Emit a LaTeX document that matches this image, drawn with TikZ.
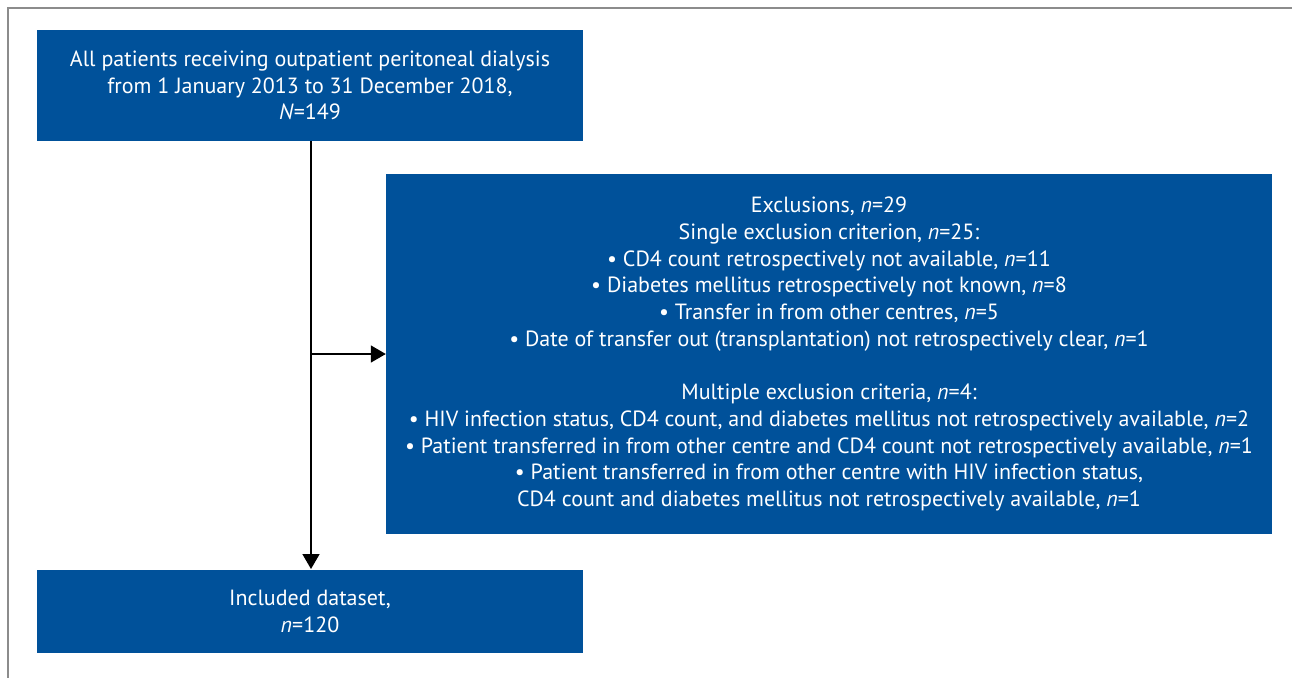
\documentclass[tikz,border=0pt]{standalone}
\usepackage{fontspec}
\setmainfont{PT Sans}
\usetikzlibrary{arrows.meta}
\definecolor{boxblue}{RGB}{0,81,154}
\definecolor{framegray}{RGB}{140,140,140}
\begin{document}
\begin{tikzpicture}[x=1pt,y=-1pt,
  bluebox/.style={fill=boxblue,draw=none,text=white,align=center,inner sep=0pt,
    font=\fontsize{22}{26.7}\selectfont},
  conn/.style={line width=1.5pt,-{Triangle[length=15pt,width=17pt]}}]
\useasboundingbox (0,0) rectangle (1292,678);
\draw[framegray,line width=1.5pt] (1292,8) -- (8,8) -- (8,678);
\node[bluebox,minimum width=546pt,minimum height=111pt] (top) at (310,85.5)
  {All patients receiving outpatient peritoneal dialysis\\
   from 1 January 2013 to 31 December 2018,\\
   \textit{N}=149};
\node[bluebox,minimum width=886pt,minimum height=360pt] (excl) at (829,354)
  {Exclusions, \textit{n}=29\\
   Single exclusion criterion, \textit{n}=25:\\
   • CD4 count retrospectively not available, \textit{n}=11\\
   • Diabetes mellitus retrospectively not known, \textit{n}=8\\
   • Transfer in from other centres, \textit{n}=5\\
   • Date of transfer out (transplantation) not retrospectively clear, \textit{n}=1\\
   ~\\
   Multiple exclusion criteria, \textit{n}=4:\\
   • HIV infection status, CD4 count, and diabetes mellitus not retrospectively available, \textit{n}=2\\
   • Patient transferred in from other centre and CD4 count not retrospectively available, \textit{n}=1\\
   • Patient transferred in from other centre with HIV infection status,\\
   CD4 count and diabetes mellitus not retrospectively available, \textit{n}=1};
\node[bluebox,minimum width=546pt,minimum height=83pt] (incl) at (310,611.5)
  {Included dataset,\\ \textit{n}=120};
\coordinate (split) at (311,354);
\draw[conn] (311,141) -- (311,569);
\draw[conn] (split) -- (excl.west);
\end{tikzpicture}
\end{document}
